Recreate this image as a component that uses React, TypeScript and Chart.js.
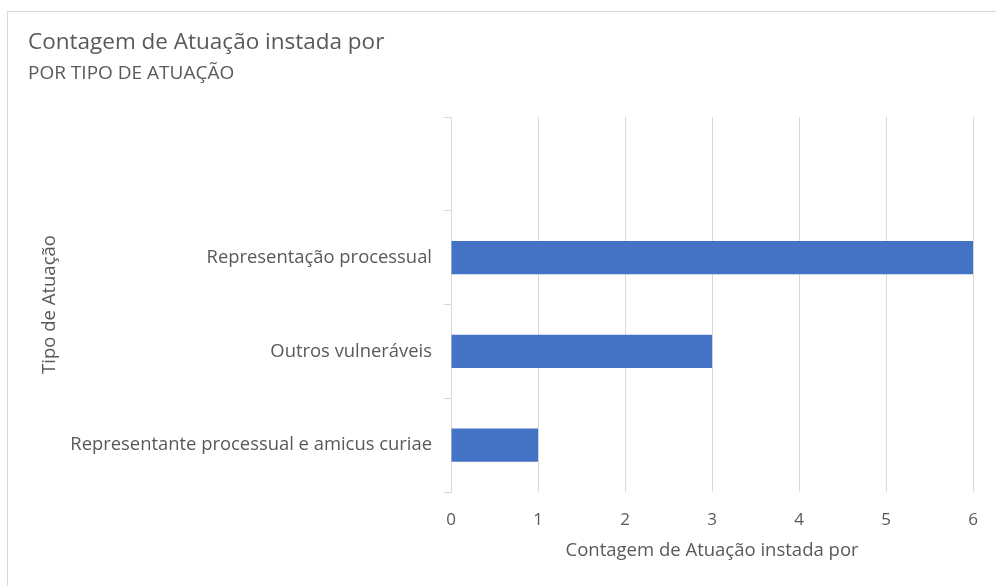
import React, { useEffect, useRef } from "react";
import { Chart, registerables } from "chart.js";

Chart.register(...registerables);

const categories = ["", "Representação processual", "Outros vulneráveis", "Representante processual e amicus curiae"];
const counts = [null, 6, 3, 1];
const xMin = 0;
const xMax = 6;
const titleText = "Contagem de Atuação instada por";
const subtitleText = "POR TIPO DE ATUAÇÃO";
const xAxisTitle = "Contagem de Atuação instada por";
const yAxisTitle = "Tipo de Atuação";

const FONT = "'Open Sans', 'Noto Sans', sans-serif";
const TEXT = "#595959";
const GRID = "#d9d9d9";

export default function App() {
  const ref = useRef<HTMLCanvasElement | null>(null);

  useEffect(() => {
    if (!ref.current) return;
    const chart = new Chart(ref.current, {
      type: "bar",
      data: {
        labels: categories,
        datasets: [
          {
            data: counts as any,
            backgroundColor: "#4472C4",
            borderWidth: 0,
            barPercentage: 0.355,
            categoryPercentage: 1,
          },
        ],
      },
      options: {
        indexAxis: "y",
        animation: false,
        responsive: false,
        maintainAspectRatio: false,
        layout: { padding: { left: 0, top: 117, right: 22, bottom: 0 } },
        plugins: {
          legend: { display: false },
          tooltip: { enabled: false },
        },
        scales: {
          x: {
            min: xMin,
            max: xMax,
            ticks: {
              stepSize: 1,
              color: TEXT,
              padding: 18,
              font: { family: FONT, size: 17 },
            },
            grid: { color: GRID, drawTicks: false, lineWidth: 1 },
            border: { display: false },
            title: {
              display: true,
              text: xAxisTitle,
              color: TEXT,
              font: { family: FONT, size: 18.5 },
              padding: { top: 0, bottom: 24 },
            },
            afterFit: (s: any) => {
              s.height = 94;
            },
          },
          y: {
            offset: true,
            ticks: {
              color: TEXT,
              padding: 12,
              font: { family: FONT, size: 18.4 },
            },
            grid: {
              offset: true,
              drawOnChartArea: false,
              drawTicks: true,
              tickLength: 7,
              color: GRID,
            },
            border: { display: true, color: GRID },
            title: {
              display: true,
              text: yAxisTitle,
              color: TEXT,
              font: { family: FONT, size: 18.5 },
              padding: { top: 39, bottom: 0 },
            },
            afterFit: (s: any) => {
              s.width = 451;
            },
          },
        },
      },
    });
    return () => chart.destroy();
  }, []);

  return (
    <div style={{ position: "fixed", left: 0, top: 0, width: 996, height: 586, background: "#fff", overflow: "hidden" }}>
      <div
        style={{
          position: "absolute",
          left: 7,
          top: 11,
          width: 989,
          height: 575,
          borderLeft: "1px solid #d9d9d9",
          borderTop: "1px solid #d9d9d9",
          boxSizing: "border-box",
        }}
      />
      <canvas ref={ref} width={996} height={586} style={{ position: "absolute", left: 0, top: 0 }} />
      <div
        style={{
          position: "absolute",
          left: 28,
          top: 26,
          fontFamily: FONT,
          fontSize: 22.5,
          color: TEXT,
          whiteSpace: "nowrap",
          lineHeight: "30px",
        }}
      >
        {titleText}
      </div>
      <div
        style={{
          position: "absolute",
          left: 28,
          top: 59,
          fontFamily: FONT,
          fontSize: 19,
          color: TEXT,
          whiteSpace: "nowrap",
          lineHeight: "26px",
        }}
      >
        {subtitleText}
      </div>
    </div>
  );
}
